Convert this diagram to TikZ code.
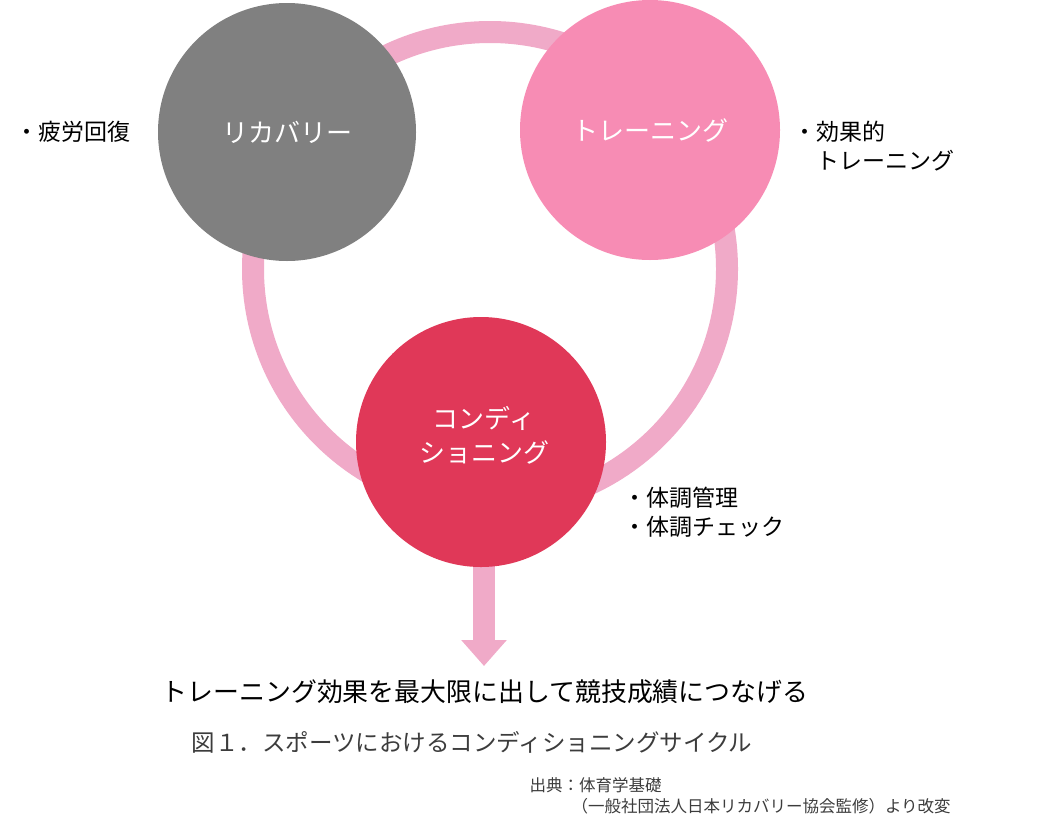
\documentclass[tikz,border=0pt]{standalone}
\usepackage{fontspec}
\setmainfont{Noto Sans CJK JP}
\usetikzlibrary{arrows.meta,positioning}
\definecolor{ringpink}{RGB}{240,170,200}
\definecolor{recgray}{RGB}{128,128,128}
\definecolor{trnpink}{RGB}{247,140,180}
\definecolor{condred}{RGB}{224,56,88}
\definecolor{captxt}{RGB}{60,60,60}
\begin{document}
\begin{tikzpicture}[x=1pt,y=-1pt,
  phase/.style={circle,minimum size=#1,inner sep=0pt,text=white,align=center,
    font=\fontsize{26}{34}\selectfont},
  note/.style={anchor=west,align=left,font=\fontsize{23}{29}\selectfont},
  ring/.style={draw=ringpink,line width=22pt}]
  \useasboundingbox (0,0) rectangle (1062,825);
  % cycle ring
  \coordinate (ringc) at (490,269);
  \draw[ring] (ringc) circle (237);
  % result arrow
  \coordinate (tip) at (484,666);
  \draw[ringpink,line width=22pt,-{Triangle[width=44pt,length=26pt]}] (484,520) -- (tip);
  % phases
  \node[phase=258,fill=recgray] (rec) at (287,132) {リカバリー};
  \node[phase=260,fill=trnpink] (trn) at (650,130) {トレーニング};
  \node[phase=250,fill=condred] (cond) at (481,442) {};
  \node[text=white,align=center,font=\fontsize{26}{34}\selectfont] (condlbl) at (484,435)
    {コンディ\\ショニング};
  % notes
  \node[note] (recnote) at (12,132) {・疲労回復};
  \node[note] (trnnote) at (790,146) {・効果的\\\hspace{1em}トレーニング};
  \node[note] (condnote) at (620,512) {・体調管理\\・体調チェック};
  % texts below
  \node[font=\fontsize{25.9}{30}\selectfont] (goal) at (485,692)
    {トレーニング効果を最大限に出して競技成績につなげる};
  \node[font=\fontsize{23.5}{28}\selectfont,text=captxt] (cap) at (472,742)
    {図１．スポーツにおけるコンディショニングサイクル};
  \node[anchor=west,font=\fontsize{16.5}{20}\selectfont,text=captxt] (src1) at (526,785)
    {出典：体育学基礎};
  \node[anchor=west,font=\fontsize{16.5}{20}\selectfont,text=captxt] (src2) at (568,806)
    {（一般社団法人日本リカバリー協会監修）より改変};
\end{tikzpicture}
\end{document}
